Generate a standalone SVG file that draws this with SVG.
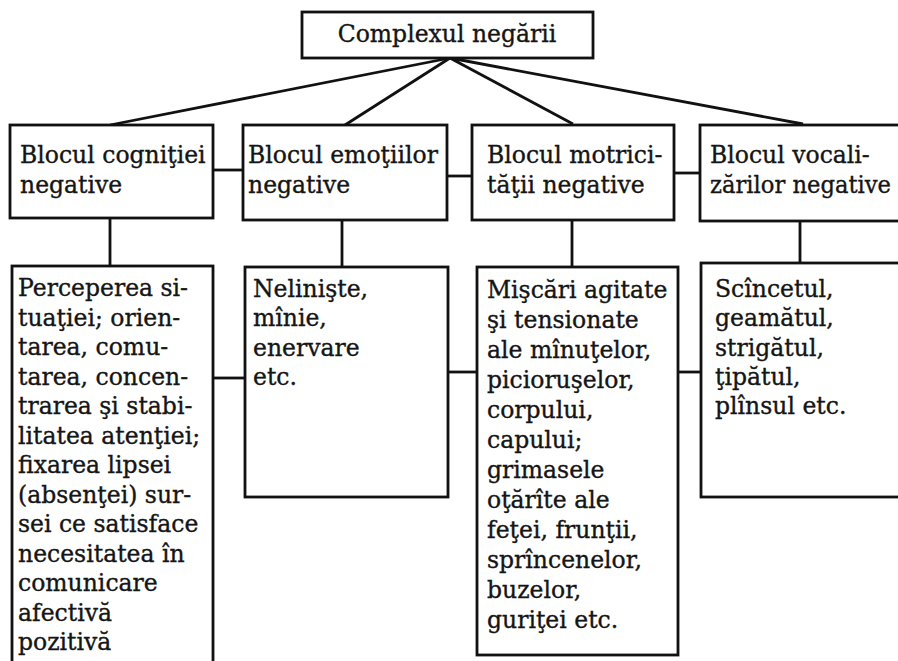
<svg xmlns="http://www.w3.org/2000/svg" width="898" height="661" viewBox="0 0 898 661">
  <style>
    .box { fill: #ffffff; stroke: #111111; stroke-width: 2.8; }
    .wire { fill: none; stroke: #111111; stroke-width: 2.8; }
    .lbl { font-family: "DejaVu Serif", "Liberation Serif", serif; font-size: 23.5px; fill: #151515; stroke: #151515; stroke-width: 0.35; }
  </style>
  <rect width="898" height="661" fill="#ffffff"/>

  <!-- connectors -->
  <g id="connectors" class="wire">
    <path d="M450 58 L110 125"/>
    <path d="M450 58 L345 125"/>
    <path d="M450 58 L573 124"/>
    <path d="M450 58 L803 124"/>
    <path d="M213 170 H243"/>
    <path d="M447 176 H472"/>
    <path d="M674 173 H700"/>
    <path d="M110 218 V266"/>
    <path d="M342 220 V267"/>
    <path d="M572 220 V267"/>
    <path d="M800 221 V263"/>
    <path d="M213 378 H245"/>
    <path d="M448 372 H477"/>
    <path d="M678 372 H701"/>
  </g>

  <!-- root -->
  <g id="complexul">
    <rect class="box" x="302" y="12" width="291" height="46"/>
    <text class="lbl" x="447" y="42" text-anchor="middle">Complexul negării</text>
  </g>

  <!-- blocks -->
  <g id="bloc-cognitie">
    <rect class="box" x="10" y="125" width="203" height="93"/>
    <text class="lbl" x="20" y="163">Blocul cogniţiei<tspan x="20" dy="30">negative</tspan></text>
  </g>
  <g id="bloc-emotii">
    <rect class="box" x="243" y="125" width="204" height="95"/>
    <text class="lbl" x="248" y="163">Blocul emoţiilor<tspan x="248" dy="30">negative</tspan></text>
  </g>
  <g id="bloc-motricitate">
    <rect class="box" x="472" y="125" width="202" height="95"/>
    <text class="lbl" x="487" y="163">Blocul motrici-<tspan x="487" dy="30">tăţii negative</tspan></text>
  </g>
  <g id="bloc-vocalizari">
    <rect class="box" x="700" y="125" width="230" height="96"/>
    <text class="lbl" x="710" y="163">Blocul vocali-<tspan x="710" dy="30" textLength="181" lengthAdjust="spacingAndGlyphs">zărilor negative</tspan></text>
  </g>

  <!-- details -->
  <g id="detalii-cognitie">
    <rect class="box" x="12" y="266" width="201" height="420"/>
    <text class="lbl" x="18" y="296">Perceperea si-<tspan x="18" dy="29.5">tuaţiei; orien-</tspan><tspan x="18" dy="29.5">tarea, comu-</tspan><tspan x="18" dy="29.5">tarea, concen-</tspan><tspan x="18" dy="29.5">trarea şi stabi-</tspan><tspan x="18" dy="29.5">litatea atenţiei;</tspan><tspan x="18" dy="29.5">fixarea lipsei</tspan><tspan x="18" dy="29.5">(absenţei) sur-</tspan><tspan x="18" dy="29.5">sei ce satisface</tspan><tspan x="18" dy="29.5">necesitatea în</tspan><tspan x="18" dy="29.5">comunicare</tspan><tspan x="18" dy="29.5">afectivă</tspan><tspan x="18" dy="29.5">pozitivă</tspan></text>
  </g>
  <g id="detalii-emotii">
    <rect class="box" x="245" y="267" width="203" height="230"/>
    <text class="lbl" x="253" y="297">Nelinişte,<tspan x="253" dy="29.3">mînie,</tspan><tspan x="253" dy="29.3">enervare</tspan><tspan x="253" dy="29.3">etc.</tspan></text>
  </g>
  <g id="detalii-motricitate">
    <rect class="box" x="477" y="267" width="201" height="388"/>
    <text class="lbl" x="487" y="298">Mişcări agitate<tspan x="487" dy="30">şi tensionate</tspan><tspan x="487" dy="30">ale mînuţelor,</tspan><tspan x="487" dy="30">picioruşelor,</tspan><tspan x="487" dy="30">corpului,</tspan><tspan x="487" dy="30">capului;</tspan><tspan x="487" dy="30">grimasele</tspan><tspan x="487" dy="30">oţărîte ale</tspan><tspan x="487" dy="30">feţei, frunţii,</tspan><tspan x="487" dy="30">sprîncenelor,</tspan><tspan x="487" dy="30">buzelor,</tspan><tspan x="487" dy="30">guriţei etc.</tspan></text>
  </g>
  <g id="detalii-vocalizari">
    <rect class="box" x="701" y="263" width="230" height="234"/>
    <text class="lbl" x="715" y="297">Scîncetul,<tspan x="715" dy="29.3">geamătul,</tspan><tspan x="715" dy="29.3">strigătul,</tspan><tspan x="715" dy="29.3">ţipătul,</tspan><tspan x="715" dy="29.3">plînsul etc.</tspan></text>
  </g>
</svg>
